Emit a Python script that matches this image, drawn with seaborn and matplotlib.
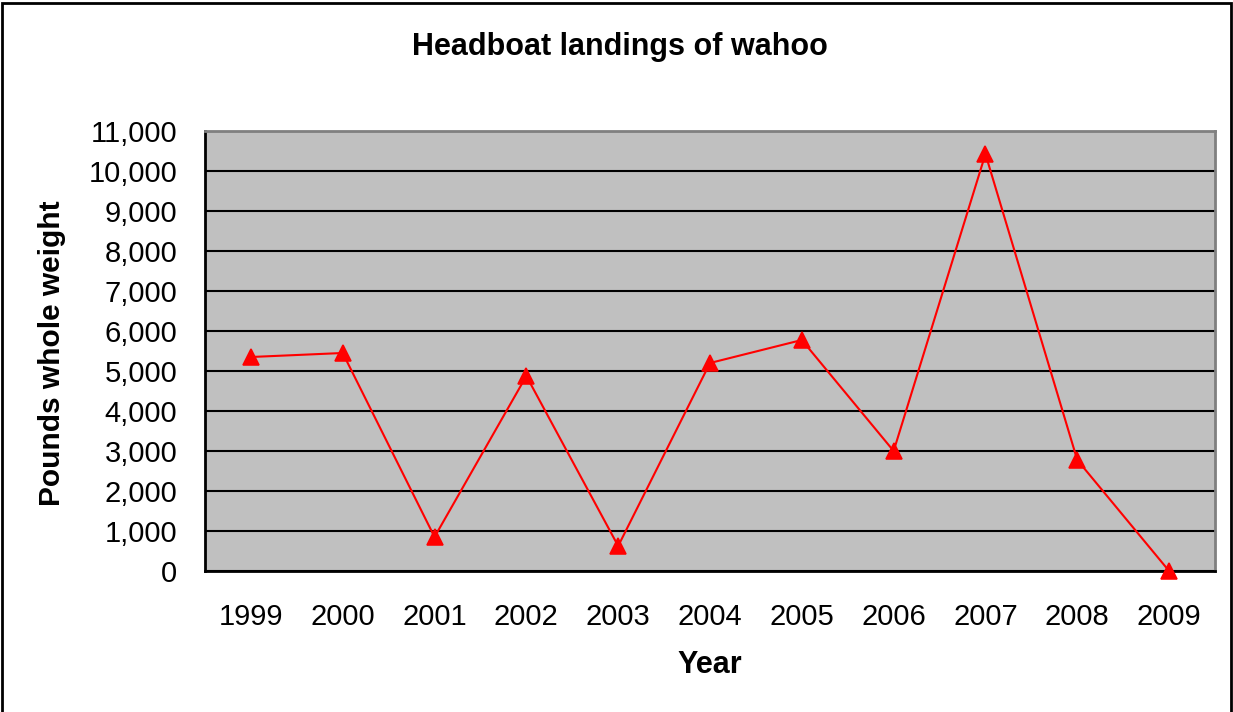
import matplotlib
matplotlib.use('Agg')
import matplotlib.pyplot as plt
import seaborn as sns
import pandas as pd
from matplotlib.patches import Rectangle

# Data
years = ['1999', '2000', '2001', '2002', '2003', '2004', '2005', '2006', '2007', '2008', '2009']
landings = [5350, 5450, 850, 4875, 625, 5200, 5775, 3000, 10425, 2775, 0]
ytick_values = list(range(0, 11001, 1000))
ytick_labels = [f"{v:,}" for v in ytick_values]

sns.set_style('white')
plt.rcParams['font.family'] = ['Liberation Sans', 'DejaVu Sans']
plt.rcParams['text.color'] = 'black'
plt.rcParams['xtick.color'] = 'black'
plt.rcParams['ytick.color'] = 'black'
plt.rcParams['axes.labelcolor'] = 'black'

W, H = 1233, 712
fig = plt.figure(figsize=(W / 100, H / 100), dpi=100)
ax = fig.add_axes([205 / W, 1 - 571 / H, (1215 - 205) / W, (571 - 131) / H])

df = pd.DataFrame({'Year': years, 'Landings': landings})
sns.pointplot(data=df, x='Year', y='Landings', color='red', markers='^',
              linestyles='-', errorbar=None, ax=ax, markersize=11, linewidth=1.5)
for ln in ax.lines:
    ln.set_clip_on(False)
    ln.set_zorder(5)

ax.set_facecolor('#C0C0C0')
ax.set_xlim(-0.5, len(years) - 0.5)
ax.set_ylim(0, 11000)
ax.set_yticks(ytick_values, ytick_labels)
ax.set_xticks(range(len(years)), years)
ax.set_xticks([i - 0.5 for i in range(len(years) + 1)], minor=True)
ax.yaxis.grid(True, color='black', lw=1.5)
ax.xaxis.grid(False)
ax.set_axisbelow(True)

ax.tick_params(axis='x', which='major', direction='in', length=4.5, width=1.5,
               pad=23, labelsize=21, colors='black')
ax.tick_params(axis='x', which='minor', direction='in', length=6, width=1.5, color='black')
ax.tick_params(axis='y', which='major', direction='in', length=6, width=1.5,
               pad=20, labelsize=21, colors='black')

for s in ['left', 'bottom']:
    ax.spines[s].set_color('black')
    ax.spines[s].set_linewidth(2)
for s in ['top', 'right']:
    ax.spines[s].set_color('#808080')
    ax.spines[s].set_linewidth(2)

ax.set_xlabel('')
ax.set_ylabel('')

fig.text(0.5025, 1 - 47 / H, 'Headboat landings of wahoo', ha='center', va='center',
         fontsize=22, fontweight='bold', color='black')
fig.text(52 / W, 1 - 353 / H, 'Pounds whole weight', ha='center', va='center',
         rotation=90, fontsize=21.5, fontweight='bold', color='black')
fig.text(710 / W, 1 - 665 / H, 'Year', ha='center', va='center',
         fontsize=22, fontweight='bold', color='black')

fig.patches.append(Rectangle((1.5 / W, -0.05), (W - 4) / W, 1.05 - 3 / H,
                             transform=fig.transFigure, fill=False,
                             edgecolor='black', lw=2))

fig.savefig('out.png', dpi=100)
